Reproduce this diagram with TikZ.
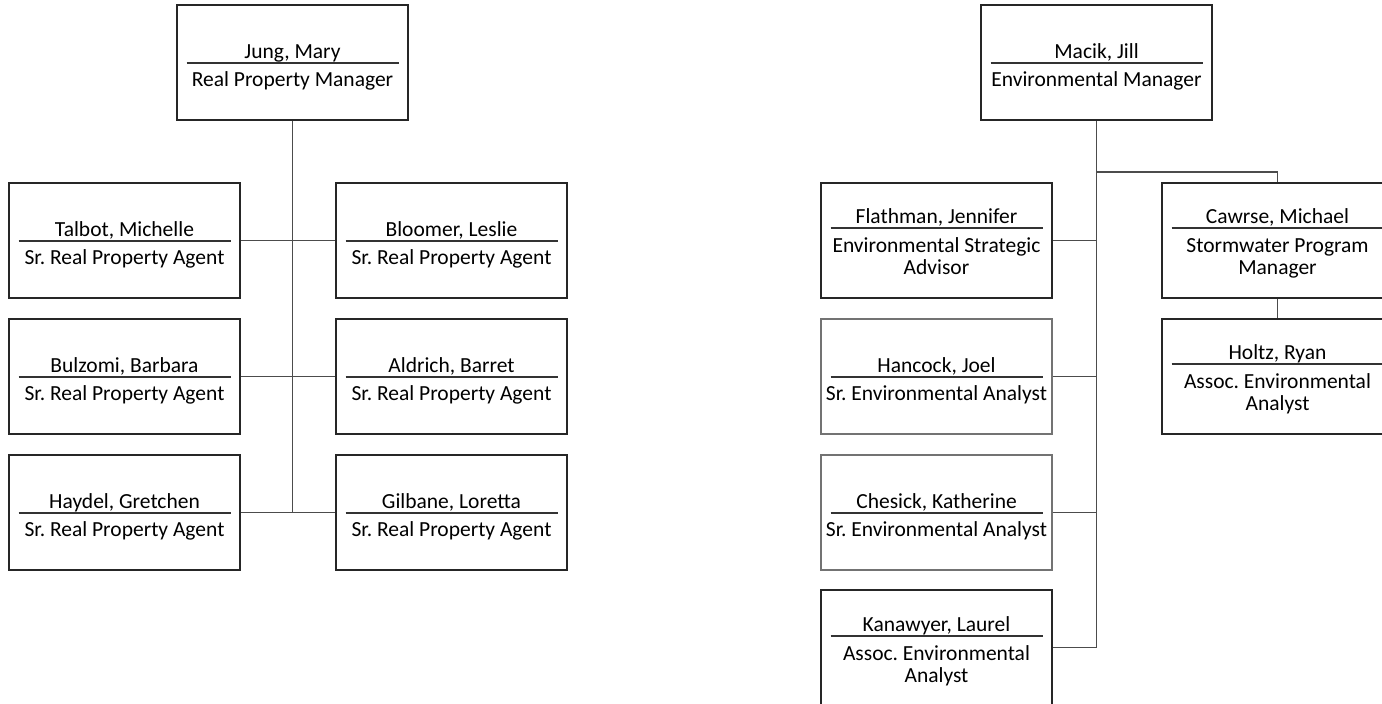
\documentclass[tikz,border=0pt]{standalone}
\usepackage{fontspec}
\setmainfont{Carlito}
\frenchspacing
\begin{document}
\begin{tikzpicture}[x=1pt,y=-1pt,
  obox/.style={draw=black!85,line width=1.2pt,minimum width=231pt,minimum height=115pt,inner sep=0pt},
  lightbox/.style={draw=black!55},
  otext/.style={inner sep=0pt,font=\fontsize{21.5}{22}\selectfont\frenchspacing,text=black},
  osep/.style={draw=black!80,line width=1.2pt},
  conn/.style={draw=black!70,line width=1.1pt}]
\useasboundingbox (0,0) rectangle (1382,704);
\clip (0,0) rectangle (1382,704);
\newcommand\orgtwo[6][]{%
  \node[obox,#1] (#2) at (#3,#4) {};
  \node[otext,anchor=base] (#2-n) at (#3,#5-5) {#6};
  \draw[osep] (#3-106,#5) -- (#3+106,#5);
}
\newcommand\orgline[4]{\node[otext,anchor=base] (#1) at (#2,#3) {#4};}
% ---------- left chart ----------
\orgtwo{jung}{292.5}{62.5}{63}{Jung, Mary}
\orgline{jung-a}{292.5}{86}{Real Property Manager}
\orgtwo{talbot}{124.5}{240.5}{241}{Talbot, Michelle}
\orgline{talbot-a}{124.5}{264}{Sr. Real Property Agent}
\orgtwo{bloomer}{451.5}{240.5}{241}{Bloomer, Leslie}
\orgline{bloomer-a}{451.5}{264}{Sr. Real Property Agent}
\orgtwo{bulzomi}{124.5}{376.5}{377}{Bulzomi, Barbara}
\orgline{bulzomi-a}{124.5}{400}{Sr. Real Property Agent}
\orgtwo{aldrich}{451.5}{376.5}{377}{Aldrich, Barret}
\orgline{aldrich-a}{451.5}{400}{Sr. Real Property Agent}
\orgtwo{haydel}{124.5}{512.5}{513}{Haydel, Gretchen}
\orgline{haydel-a}{124.5}{536}{Sr. Real Property Agent}
\orgtwo{gilbane}{451.5}{512.5}{513}{Gilbane, Loretta}
\orgline{gilbane-a}{451.5}{536}{Sr. Real Property Agent}
\draw[conn] (jung.south) -- (jung.south |- haydel.east);
\draw[conn] (talbot.east) -- (bloomer.west);
\draw[conn] (bulzomi.east) -- (aldrich.west);
\draw[conn] (haydel.east) -- (gilbane.west);
% ---------- right chart ----------
\orgtwo{macik}{1096.5}{62.5}{63}{Macik, Jill}
\orgline{macik-a}{1096.5}{86}{Environmental Manager}
\orgtwo{flathman}{936.5}{240.5}{228}{Flathman, Jennifer}
\orgline{flathman-a}{936.5}{252}{Environmental Strategic}
\orgline{flathman-b}{936.5}{274}{Advisor}
\orgtwo[lightbox]{hancock}{936.5}{376.5}{377}{Hancock, Joel}
\orgline{hancock-a}{936.5}{400}{Sr. Environmental Analyst}
\orgtwo[lightbox]{chesick}{936.5}{512.5}{513}{Chesick, Katherine}
\orgline{chesick-a}{936.5}{536}{Sr. Environmental Analyst}
\orgtwo{kanawyer}{936.5}{647.5}{636}{Kanawyer, Laurel}
\orgline{kanawyer-a}{936.5}{660}{Assoc. Environmental}
\orgline{kanawyer-b}{936.5}{682}{Analyst}
\orgtwo{cawrse}{1277.5}{240.5}{228}{Cawrse, Michael}
\orgline{cawrse-a}{1277.5}{252}{Stormwater Program}
\orgline{cawrse-b}{1277.5}{274}{Manager}
\orgtwo{holtz}{1277.5}{376.5}{364}{Holtz, Ryan}
\orgline{holtz-a}{1277.5}{388}{Assoc. Environmental}
\orgline{holtz-b}{1277.5}{410}{Analyst}
\coordinate (br) at (1096.5,172);
\draw[conn] (macik.south) -- (macik.south |- kanawyer.east) -- (kanawyer.east);
\draw[conn] (br) -| (cawrse.north);
\draw[conn] (flathman.east) -- (flathman.east -| macik.south);
\draw[conn] (hancock.east) -- (hancock.east -| macik.south);
\draw[conn] (chesick.east) -- (chesick.east -| macik.south);
\draw[conn] (cawrse.south) -- (holtz.north);
\end{tikzpicture}
\end{document}
